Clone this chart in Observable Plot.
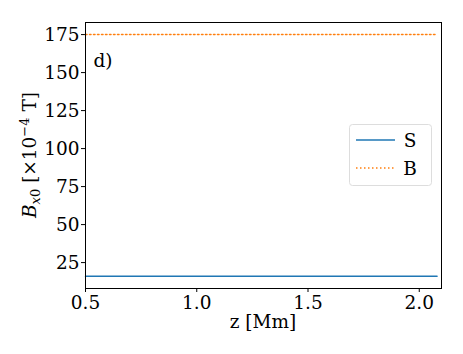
<!DOCTYPE html>
<html>
<head>
<meta charset="utf-8">
<script src="https://cdn.jsdelivr.net/npm/d3@7"></script>
<script src="https://cdn.jsdelivr.net/npm/@observablehq/plot@0.6"></script>
<style>
  html, body { margin: 0; padding: 0; background: #fff; }
  svg, svg text, svg tspan, svg g { font-family: "DejaVu Serif", serif !important; }
</style>
</head>
<body>
<div id="chart"></div>
<script>
// Data
const zValues = [0.5, 2.08];
const seriesNames = ["S", "B"];
const sValues = [16, 16];
const bValues = [175, 175];
const xTicks = [0.5, 1.0, 1.5, 2.0];
const yTicks = [25, 50, 75, 100, 125, 150, 175];
const colors = ["#1f77b4", "#ff7f0e"];

const sData = zValues.map((z, i) => ({z, v: sValues[i]}));
const bData = zValues.map((z, i) => ({z, v: bValues[i]}));

const W = 463, H = 354;
const svg = Plot.plot({
  width: W,
  height: H,
  marginLeft: 85,
  marginRight: 22,
  marginTop: 22,
  marginBottom: 66,
  style: {fontFamily: "'DejaVu Serif', serif", fontSize: "18.5px", color: "#000", background: "#fff"},
  x: {domain: [0.5, 2.1], ticks: xTicks, tickFormat: d3.format(".1f"), label: null},
  y: {domain: [7.95, 182.95], ticks: yTicks, label: null},
  marks: [
    Plot.axisX({ticks: xTicks, tickFormat: d3.format(".1f"), tickSize: 4, tickPadding: 3, fontSize: 18.5, label: null}),
    Plot.axisY({ticks: yTicks, tickSize: 4, tickPadding: 2, fontSize: 18.5, label: null}),
    Plot.lineY(sData, {x: "z", y: "v", stroke: colors[0], strokeWidth: 1.5}),
    Plot.lineY(bData, {x: "z", y: "v", stroke: colors[1], strokeWidth: 1.5, strokeDasharray: "1.5,2.5"}),
    Plot.text(["d)"], {frameAnchor: "top-left", dx: 8, dy: 44, lineAnchor: "bottom", textAnchor: "start", fontSize: 18.5, fill: "#000"}),
    Plot.frame({stroke: "#000", strokeWidth: 1})
  ]
});

const s = d3.select(svg);
// x axis label
s.append("text")
  .attr("x", (85 + (W - 22)) / 2)
  .attr("y", 328)
  .attr("text-anchor", "middle")
  .attr("font-size", 18.5)
  .attr("fill", "#000")
  .text("z [Mm]");

// y axis label with subscripts/superscripts
const yl = s.append("text")
  .attr("transform", `translate(36,${(22 + (H - 66)) / 2}) rotate(-90)`)
  .attr("text-anchor", "middle")
  .attr("font-size", 18.5)
  .attr("fill", "#000");
yl.append("tspan").attr("font-style", "italic").text("B");
yl.append("tspan").attr("font-style", "italic").attr("font-size", 13).attr("dy", 4).text("x");
yl.append("tspan").attr("font-size", 13).text("0");
yl.append("tspan").attr("dy", -4).text(" [×10");
yl.append("tspan").attr("font-size", 13).attr("dy", -7).text("−4");
yl.append("tspan").attr("dy", 7).text(" T]");

// legend
const lg = s.append("g");
lg.append("rect")
  .attr("x", 349.5).attr("y", 124.5).attr("width", 82).attr("height", 61)
  .attr("rx", 3).attr("fill", "#fff").attr("fill-opacity", 0.8)
  .attr("stroke", "#ddd").attr("stroke-width", 1);
seriesNames.forEach((name, i) => {
  const y = 140 + i * 28;
  lg.append("line")
    .attr("x1", 356).attr("x2", 395).attr("y1", y).attr("y2", y)
    .attr("stroke", colors[i]).attr("stroke-width", 1.5)
    .attr("stroke-dasharray", i === 1 ? "1.5,2.5" : null);
  lg.append("text")
    .attr("x", 410).attr("y", y + 6.5)
    .attr("font-size", 18.5).attr("fill", "#000")
    .text(name);
});

document.getElementById("chart").appendChild(svg);
</script>
</body>
</html>
